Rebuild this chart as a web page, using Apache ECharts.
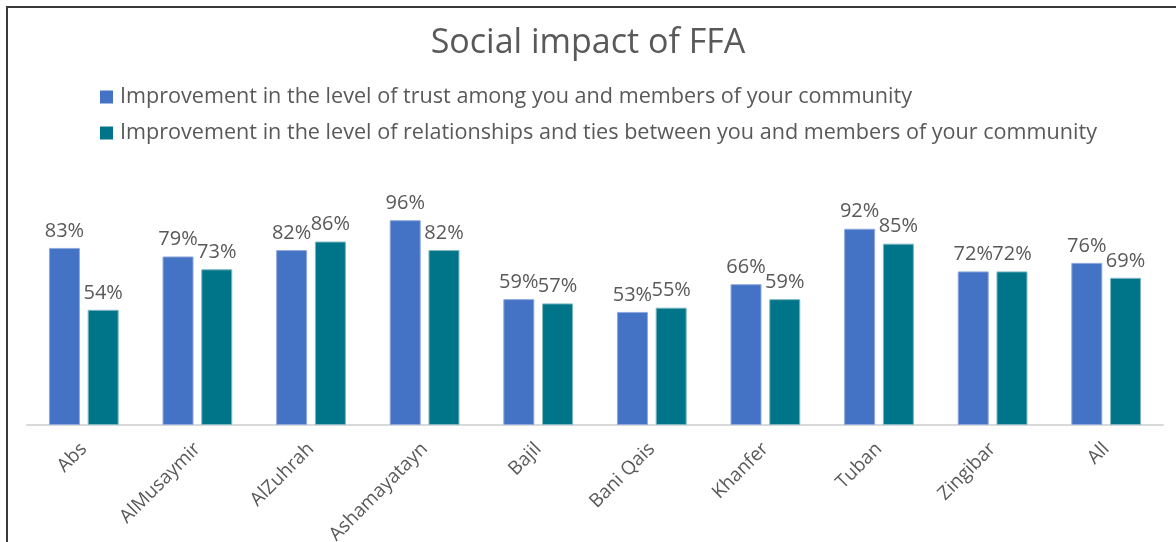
<!DOCTYPE html>
<html>
<head>
<meta charset="utf-8">
<script src="https://cdn.jsdelivr.net/npm/echarts@6/dist/echarts.min.js"></script>
<style>
  html, body { margin: 0; padding: 0; background: #fff; }
  #wrap { position: relative; width: 1176px; height: 542px; overflow: hidden; }
  #frame { position: absolute; left: 6px; top: 6px; width: 1200px; height: 600px;
           border-left: 2px solid #3a3a3a; border-top: 2px solid #3a3a3a; box-sizing: border-box; }
  #chart { position: absolute; left: 0; top: 0; width: 1176px; height: 542px; }
</style>
</head>
<body>
<div id="wrap">
  <div id="frame"></div>
  <div id="chart"></div>
</div>
<script>
// districts
const categories = ['Abs', 'AlMusaymir', 'AlZuhrah', 'Ashamayatayn', 'Bajil', 'Bani Qais', 'Khanfer', 'Tuban', 'Zingibar', 'All'];
// percent values
const trustValues = [83, 79, 82, 96, 59, 53, 66, 92, 72, 76];
const tiesValues = [54, 73, 86, 82, 57, 55, 59, 85, 72, 69];
const seriesNames = [
  'Improvement in the level of trust among you and members of your community',
  'Improvement in the level of relationships and ties between you and members of your community'
];

const textColor = '#595959';
const fontFamily = '"Open Sans", "Noto Sans", sans-serif';

const chart = echarts.init(document.getElementById('chart'));

const labelStyle = {
  show: true,
  position: 'top',
  distance: 7,
  color: textColor,
  fontSize: 20,
  fontFamily: fontFamily,
  formatter: (p) => p.value + '%'
};

chart.setOption({
  animation: false,
  title: {
    text: 'Social impact of FFA',
    left: 'center',
    top: 21,
    textStyle: { color: textColor, fontSize: 34, fontWeight: 'normal', fontFamily: fontFamily }
  },
  legend: {
    orient: 'vertical',
    left: 100,
    top: 86,
    padding: 0,
    itemWidth: 13,
    itemHeight: 13,
    itemGap: 14,
    icon: 'rect',
    itemStyle: { borderWidth: 0 },
    textStyle: { color: textColor, fontSize: 21.6, lineHeight: 22, fontFamily: fontFamily, padding: [0, 0, 0, 2] },
    data: seriesNames
  },
  grid: { left: 27, right: 13, top: 169, bottom: 117, outerBoundsMode: 'none' },
  xAxis: {
    type: 'category',
    data: categories,
    axisLine: { lineStyle: { color: '#d9d9d9', width: 2 } },
    axisTick: { show: false },
    axisLabel: {
      rotate: 45,
      margin: 21,
      interval: 0,
      color: textColor,
      fontSize: 19,
      fontFamily: fontFamily
    }
  },
  yAxis: {
    type: 'value',
    min: 0,
    max: 120,
    show: false,
    splitLine: { show: false }
  },
  series: [
    {
      name: seriesNames[0],
      type: 'bar',
      data: trustValues,
      barWidth: 31,
      barGap: '25%',
      itemStyle: { color: '#4472C4', borderColor: '#8faadc', borderWidth: 1 },
      label: labelStyle
    },
    {
      name: seriesNames[1],
      type: 'bar',
      data: tiesValues,
      barWidth: 31,
      itemStyle: { color: '#00758A', borderColor: '#7fb8c2', borderWidth: 1 },
      label: labelStyle
    }
  ]
});
</script>
</body>
</html>
